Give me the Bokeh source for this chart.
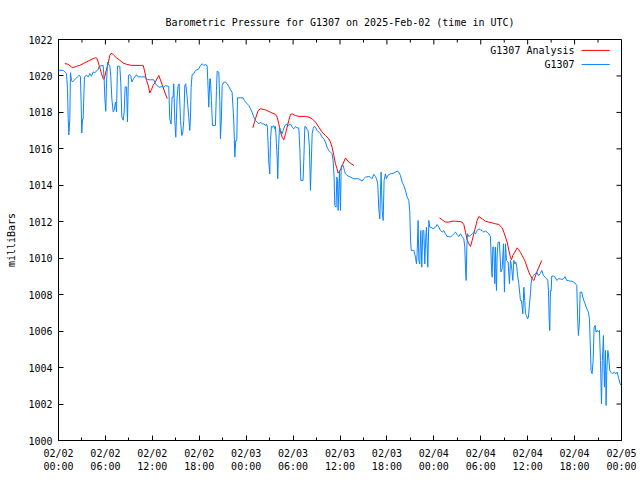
import math
from bokeh.plotting import figure
from bokeh.models import Range1d, FixedTicker
from bokeh.embed import file_html
from bokeh.resources import INLINE
from bokeh.core.properties import value

FONT = "DejaVu Sans Mono"
TITLE = "Barometric Pressure for G1307 on 2025-Feb-02 (time in UTC)"

# hours since 2025-02-02 00:00 UTC
x_major = [0, 6, 12, 18, 24, 30, 36, 42, 48, 54, 60, 66, 72]
x_minor = [3, 9, 15, 21, 27, 33, 39, 45, 51, 57, 63, 69]
x_tick_labels = ["02/02\n00:00", "02/02\n06:00", "02/02\n12:00", "02/02\n18:00",
                 "02/03\n00:00", "02/03\n06:00", "02/03\n12:00", "02/03\n18:00",
                 "02/04\n00:00", "02/04\n06:00", "02/04\n12:00", "02/04\n18:00",
                 "02/05\n00:00"]
y_major = [1000, 1002, 1004, 1006, 1008, 1010, 1012, 1014, 1016, 1018, 1020, 1022]

# G1307 observed pressure (hours, mb)
blue_feb02 = [
    (0.0, 1020.31), (0.6, 1020.31), (1.02, 1020.13), (1.15, 1019.31), (1.24, 1017.66), (1.32, 1016.76),
    (1.45, 1017.66), (1.53, 1020.18), (1.66, 1019.76), (1.79, 1019.67), (2.2, 1019.85), (2.64, 1020.04),
    (2.81, 1019.95), (2.9, 1018.39), (2.98, 1016.87), (3.07, 1017.62), (3.15, 1017.62), (3.32, 1019.95),
    (3.58, 1020.04), (3.8, 1019.95), (4.01, 1020.13), (4.22, 1019.98), (4.43, 1020.22), (4.65, 1020.17),
    (4.86, 1020.28), (5.07, 1020.35), (5.2, 1020.53), (5.71, 1020.58), (5.84, 1019.8), (5.93, 1018.76),
    (6.05, 1018.06), (6.14, 1019.6), (6.27, 1020.75), (6.35, 1020.64), (6.56, 1020.58), (6.69, 1019.95),
    (6.82, 1018.76), (6.99, 1018.03), (7.12, 1018.12), (7.29, 1018.57), (7.42, 1018.03), (7.54, 1020.53),
    (7.84, 1020.53), (7.97, 1019.58), (8.1, 1017.75), (8.27, 1017.57), (8.4, 1018.03), (8.52, 1019.4),
    (8.7, 1019.4), (8.82, 1017.48), (8.95, 1020.04), (9.12, 1020.07), (9.25, 1019.98), (9.38, 1019.67),
    (9.55, 1019.8), (9.76, 1019.95), (9.97, 1020.07), (10.19, 1019.95), (10.61, 1019.95), (11.04, 1019.95),
    (11.25, 1019.8), (11.76, 1019.79), (12.19, 1019.79), (12.4, 1019.57), (12.83, 1019.38), (13.25, 1019.42),
    (13.47, 1019.38), (13.68, 1019.48), (14.1, 1019.42), (14.23, 1017.65), (14.4, 1017.37), (14.53, 1018.84),
    (14.66, 1018.84), (14.74, 1019.57), (14.87, 1017.56), (15.0, 1016.64), (15.17, 1018.84), (15.3, 1019.48),
    (15.43, 1019.57), (15.6, 1017.56), (15.77, 1016.73), (15.9, 1016.92), (16.02, 1017.56), (16.15, 1019.48),
    (16.28, 1019.57), (16.45, 1018.84), (16.66, 1017.74), (16.79, 1017.01), (16.88, 1017.74), (16.96, 1019.38),
    (17.09, 1020.08), (17.3, 1020.12), (17.51, 1020.3), (17.94, 1020.39), (18.15, 1020.57), (18.37, 1020.67),
    (18.58, 1020.57), (18.79, 1020.63), (19.01, 1020.57), (19.09, 1019.75), (19.22, 1018.29), (19.35, 1019.84),
    (19.43, 1019.84), (19.56, 1018.65), (19.69, 1017.28), (20.07, 1017.28), (20.2, 1019.2), (20.29, 1020.26),
    (20.5, 1020.21), (20.63, 1018.65), (20.71, 1016.55), (20.84, 1017.74), (20.93, 1019.48), (21.14, 1019.66),
    (21.35, 1019.66), (21.57, 1019.57), (21.78, 1019.42), (21.99, 1019.24), (22.2, 1019.11), (22.33, 1018.2),
    (22.42, 1017.47), (22.55, 1015.55), (22.67, 1016.46), (22.8, 1016.46), (22.89, 1018.8), (23.61, 1018.8),
    (23.78, 1018.65),
]
blue_feb03 = [
    (24.04, 1018.51), (24.34, 1018.38), (24.55, 1018.2), (24.76, 1018.01), (24.98, 1017.74), (25.19, 1017.56),
    (25.4, 1017.47), (25.62, 1017.37), (25.83, 1017.47), (26.04, 1017.37), (26.25, 1017.37), (26.47, 1017.28),
    (26.6, 1017.37), (26.72, 1017.19), (26.81, 1016.19), (26.89, 1015.27), (27.02, 1014.63), (27.11, 1016.46),
    (27.23, 1017.23), (27.41, 1017.19), (27.53, 1017.28), (27.66, 1017.1), (27.75, 1017.23), (27.87, 1016.28),
    (27.96, 1015.55), (28.04, 1014.36), (28.13, 1015.91), (28.26, 1017.19), (28.39, 1017.01), (28.6, 1016.83),
    (28.73, 1017.01), (28.94, 1017.28), (29.24, 1017.37), (29.45, 1017.28), (29.66, 1017.37), (29.88, 1017.19),
    (30.09, 1017.1), (30.3, 1017.23), (30.52, 1017.15), (30.73, 1017.15), (30.86, 1016.09), (30.99, 1014.27),
    (31.28, 1014.27), (31.41, 1015.91), (31.5, 1017.23), (31.67, 1017.19), (31.8, 1017.05), (31.92, 1017.01),
    (32.09, 1016.09), (32.22, 1013.72), (32.35, 1015.55), (32.44, 1016.83), (32.56, 1017.1), (32.69, 1017.23),
    (32.86, 1017.19), (33.08, 1017.01), (33.29, 1016.92), (33.5, 1016.83), (33.71, 1016.64), (33.93, 1016.55),
    (34.14, 1016.37), (34.35, 1016.09), (34.57, 1015.91), (34.78, 1015.82), (34.99, 1015.73), (35.12, 1015.36),
    (35.25, 1014.45), (35.33, 1012.89), (35.5, 1012.8), (35.59, 1014.45), (35.68, 1014.27), (35.76, 1012.62),
    (35.85, 1013.72), (35.93, 1014.81), (36.06, 1012.62), (36.14, 1014.81), (36.19, 1015.09), (36.4, 1015.09),
    (36.57, 1014.81), (36.7, 1014.63), (36.91, 1014.54), (37.34, 1014.45), (37.77, 1014.36), (38.4, 1014.36),
    (38.83, 1014.23), (39.04, 1014.36), (39.26, 1014.45), (39.68, 1014.48), (39.9, 1014.45), (40.11, 1014.36),
    (40.32, 1014.6), (40.54, 1014.48), (40.66, 1014.36), (40.83, 1014.08), (40.96, 1012.71), (41.09, 1012.16),
    (41.18, 1013.72), (41.26, 1014.72), (41.39, 1012.62), (41.52, 1012.07), (41.64, 1014.27), (41.81, 1014.63),
    (41.94, 1014.36), (42.11, 1014.54), (42.45, 1014.63), (42.88, 1014.67), (43.31, 1014.78), (43.52, 1014.72),
    (43.73, 1014.54), (43.95, 1014.17), (44.16, 1013.99), (44.37, 1013.72), (44.59, 1013.35), (44.8, 1013.17),
    (44.93, 1012.53), (45.01, 1011.16), (45.1, 1010.43), (45.44, 1010.43), (45.65, 1010.06), (45.78, 1009.69),
    (45.86, 1010.24), (45.99, 1012.07), (46.08, 1009.88), (46.2, 1009.69), (46.33, 1011.52), (46.46, 1009.51),
    (46.59, 1011.52), (46.72, 1011.52), (46.84, 1009.69), (46.97, 1011.16), (47.06, 1011.7), (47.23, 1009.51),
    (47.36, 1012.07), (47.48, 1011.7), (47.65, 1011.7), (47.91, 1011.61),
]
blue_feb04 = [
    (48.21, 1011.7), (48.42, 1011.85), (48.64, 1011.71), (48.85, 1011.52), (49.06, 1011.43), (49.28, 1011.52),
    (49.49, 1011.34), (49.7, 1011.19), (49.92, 1011.19), (50.13, 1011.16), (50.34, 1011.25), (50.55, 1011.34),
    (50.77, 1011.43), (50.98, 1011.3), (51.19, 1011.19), (51.41, 1011.34), (51.62, 1011.19), (51.83, 1011.07),
    (51.96, 1010.61), (52.05, 1009.42), (52.13, 1008.78), (52.22, 1010.61), (52.3, 1011.34), (52.47, 1011.19),
    (52.69, 1011.25), (52.9, 1011.34), (53.11, 1011.43), (53.33, 1011.34), (53.54, 1011.52), (53.75, 1011.61),
    (53.97, 1011.56), (54.18, 1011.52), (54.39, 1011.43), (54.6, 1011.49), (54.82, 1011.43), (55.03, 1011.34),
    (55.24, 1011.19), (55.37, 1009.51), (55.46, 1008.96), (55.54, 1010.61), (55.67, 1010.61), (55.8, 1008.6),
    (55.88, 1010.61), (56.01, 1008.23), (56.1, 1010.24), (56.22, 1010.88), (56.39, 1010.88), (56.57, 1009.24),
    (56.74, 1009.42), (56.91, 1010.79), (57.03, 1008.14), (57.16, 1010.79), (57.29, 1009.88), (57.5, 1009.79),
    (57.67, 1008.6), (57.8, 1009.88), (57.93, 1009.6), (58.1, 1008.78), (58.23, 1009.88), (58.36, 1009.69),
    (58.48, 1009.79), (58.61, 1009.51), (58.74, 1008.96), (58.87, 1008.6), (59.08, 1007.68), (59.21, 1007.68),
    (59.38, 1006.95), (59.51, 1008.41), (59.63, 1007.68), (59.72, 1006.95), (59.85, 1006.86), (59.98, 1006.68),
    (60.1, 1006.77), (60.23, 1007.5), (60.36, 1008.05), (60.44, 1008.6), (60.53, 1008.87), (60.74, 1009.05),
    (60.95, 1009.15), (61.17, 1009.24), (61.38, 1009.05), (61.59, 1009.15), (61.81, 1009.33), (62.02, 1009.05),
    (62.23, 1008.96), (62.44, 1008.87), (62.57, 1008.78), (62.66, 1008.23), (62.74, 1006.77), (62.83, 1006.04),
    (62.91, 1008.23), (63.0, 1008.2), (63.08, 1009.02), (63.3, 1009.02), (63.51, 1008.96), (63.72, 1008.78),
    (63.94, 1008.87), (64.15, 1008.87), (64.36, 1008.83), (64.58, 1008.87), (64.79, 1008.99), (65.0, 1008.78),
    (65.22, 1008.78), (65.43, 1008.74), (65.64, 1008.74), (65.86, 1008.69), (66.07, 1008.63), (66.28, 1008.5),
    (66.41, 1006.49), (66.49, 1005.76), (66.62, 1006.49), (66.71, 1008.14), (66.92, 1008.14), (67.05, 1007.87),
    (67.18, 1007.68), (67.35, 1007.5), (67.56, 1007.23), (67.77, 1007.04), (67.9, 1006.68), (67.99, 1005.49),
    (68.11, 1003.84), (68.24, 1003.66), (68.37, 1004.39), (68.5, 1006.22), (68.63, 1006.31), (68.75, 1005.95),
    (68.88, 1006.04), (69.05, 1005.95), (69.18, 1006.04), (69.31, 1004.39), (69.44, 1002.01), (69.56, 1004.39),
    (69.69, 1005.76), (69.82, 1002.93), (69.95, 1004.94), (70.03, 1001.92), (70.12, 1003.84), (70.25, 1004.94),
    (70.37, 1004.57), (70.5, 1003.84), (70.63, 1003.75), (70.84, 1003.66), (71.1, 1003.75), (71.27, 1003.66),
    (71.44, 1003.75), (71.61, 1003.48), (71.82, 1003.11), (72.0, 1003.0),
]

# G1307 Analysis (hours, mb), three separate runs
red_run1 = [
    (0.81, 1020.68), (1.24, 1020.64), (1.66, 1020.49), (1.87, 1020.46), (2.3, 1020.53), (2.73, 1020.58),
    (3.15, 1020.68), (3.58, 1020.77), (4.01, 1020.86), (4.43, 1020.95), (4.77, 1021.0), (4.94, 1020.95),
    (5.2, 1020.58), (5.5, 1020.13), (5.71, 1019.85), (5.84, 1019.82), (6.05, 1020.22), (6.35, 1020.68),
    (6.56, 1021.13), (6.78, 1021.26), (7.08, 1021.13), (7.42, 1021.0), (7.84, 1020.86), (8.27, 1020.71),
    (8.7, 1020.64), (9.33, 1020.58), (10.61, 1020.58), (10.83, 1020.58), (11.04, 1020.22), (11.25, 1019.76),
    (11.47, 1019.49), (11.68, 1019.07), (11.89, 1019.25), (12.11, 1019.49), (12.32, 1019.62), (12.83, 1020.03),
    (13.9, 1018.75),
]
red_run2 = [
    (24.85, 1017.15), (25.19, 1017.65), (25.53, 1018.1), (25.83, 1018.2), (26.47, 1018.14), (27.11, 1018.01),
    (27.75, 1017.89), (27.96, 1017.74), (28.17, 1017.37), (28.39, 1016.92), (28.6, 1016.64), (28.81, 1016.5),
    (29.03, 1016.83), (29.24, 1017.19), (29.45, 1017.56), (29.67, 1017.89), (29.88, 1017.92), (30.3, 1017.83),
    (30.73, 1017.78), (31.58, 1017.78), (32.01, 1017.74), (32.44, 1017.65), (32.86, 1017.47), (33.29, 1017.19),
    (33.71, 1016.92), (34.14, 1016.73), (34.57, 1016.55), (34.78, 1016.37), (34.99, 1016.09), (35.21, 1015.64),
    (35.42, 1015.18), (35.63, 1014.9), (35.76, 1014.67), (36.0, 1014.8), (36.3, 1015.1), (36.7, 1015.5),
    (37.13, 1015.27), (37.77, 1015.09),
]
red_run3 = [
    (48.72, 1012.22), (49.06, 1012.11), (49.49, 1011.98), (49.92, 1011.98), (50.34, 1012.03), (50.77, 1012.03),
    (51.19, 1012.02), (51.62, 1011.98), (51.83, 1011.85), (52.05, 1011.43), (52.26, 1011.01), (52.47, 1010.79),
    (52.69, 1010.65), (52.9, 1010.97), (53.11, 1011.34), (53.33, 1011.71), (53.54, 1012.07), (53.75, 1012.29),
    (54.18, 1012.16), (54.6, 1012.03), (55.03, 1011.98), (55.46, 1011.94), (55.88, 1011.89), (56.31, 1011.85),
    (56.74, 1011.67), (56.95, 1011.43), (57.16, 1011.16), (57.38, 1010.88), (57.59, 1010.43), (57.8, 1010.06),
    (57.93, 1009.91), (58.1, 1010.15), (58.36, 1010.33), (58.65, 1010.57), (58.87, 1010.46), (59.08, 1010.33),
    (59.29, 1010.15), (59.51, 1009.97), (59.72, 1009.79), (59.93, 1009.51), (60.15, 1009.24), (60.36, 1009.05),
    (60.57, 1008.87), (60.79, 1008.78), (61.17, 1009.24), (61.8, 1009.88),
]

series_names = ["G1307 Analysis", "G1307"]
RED = "#ff0000"
BLUE = "#0a84ff"

p = figure(width=636, height=476, output_backend="svg", toolbar_location=None,
           x_range=Range1d(0, 72), y_range=Range1d(1000, 1022),
           min_border_left=58, min_border_right=15, min_border_top=39, min_border_bottom=36,
           title=TITLE)
p.title.align = "center"
p.title.text_font = FONT
p.title.text_font_size = "10px"
p.title.text_font_style = "normal"
p.title.text_color = "black"
p.title.standoff = 23
p.grid.visible = False
p.outline_line_color = "black"
p.outline_line_width = 1
p.background_fill_color = "white"
p.border_fill_color = "white"

xt = FixedTicker(ticks=x_major, minor_ticks=x_minor)
yt = FixedTicker(ticks=y_major, minor_ticks=[])

xa = p.xaxis[0]
xa.ticker = xt
xa.major_label_overrides = {t: lab for t, lab in zip(x_major, x_tick_labels)}
xa.major_label_standoff = 7
ya = p.yaxis[0]
ya.ticker = yt
ya.axis_label = "milliBars"
ya.axis_label_text_font = FONT
ya.axis_label_text_font_size = "10px"
ya.axis_label_text_font_style = "normal"
ya.axis_label_text_color = "black"
ya.axis_label_standoff = 8
ya.major_label_standoff = 6

for ax in (xa, ya):
    ax.major_tick_in = 5
    ax.major_tick_out = 0
    ax.minor_tick_in = 3
    ax.minor_tick_out = 0
    ax.axis_line_color = "black"
    ax.major_tick_line_color = "black"
    ax.minor_tick_line_color = "black"
    ax.major_label_text_font = FONT
    ax.major_label_text_font_size = "10px"
    ax.major_label_text_color = "black"

# mirrored tick marks on the top and right borders (screen-length rays)
p.ray(x=x_major, y=[y_major[-1]] * len(x_major), length=5, length_units="screen",
      angle=-math.pi / 2, line_color="black", line_width=1)
p.ray(x=x_minor, y=[y_major[-1]] * len(x_minor), length=3, length_units="screen",
      angle=-math.pi / 2, line_color="black", line_width=1)
p.ray(x=[x_major[-1]] * len(y_major), y=y_major, length=5, length_units="screen",
      angle=math.pi, line_color="black", line_width=1)

for run in (red_run1, red_run2, red_run3):
    hx, mb = zip(*run)
    p.line(list(hx), list(mb), line_color=RED, line_width=1)

blue = blue_feb02 + blue_feb03 + blue_feb04
bx, bmb = zip(*blue)
p.line(list(bx), list(bmb), line_color=BLUE, line_width=1)

# key, top right (label right-aligned, sample line to its right)
key_y = [1021.4, 1020.63]
key_colors = [RED, BLUE]
p.text(x=[66.0, 66.0], y=key_y, text=series_names, text_align="right", text_baseline="middle",
       text_font=value(FONT), text_font_size="10px", text_color="black")
for ky, kc in zip(key_y, key_colors):
    p.line([66.9, 70.5], [ky, ky], line_color=kc, line_width=1)

open("out.html", "w").write(file_html(p, INLINE))
